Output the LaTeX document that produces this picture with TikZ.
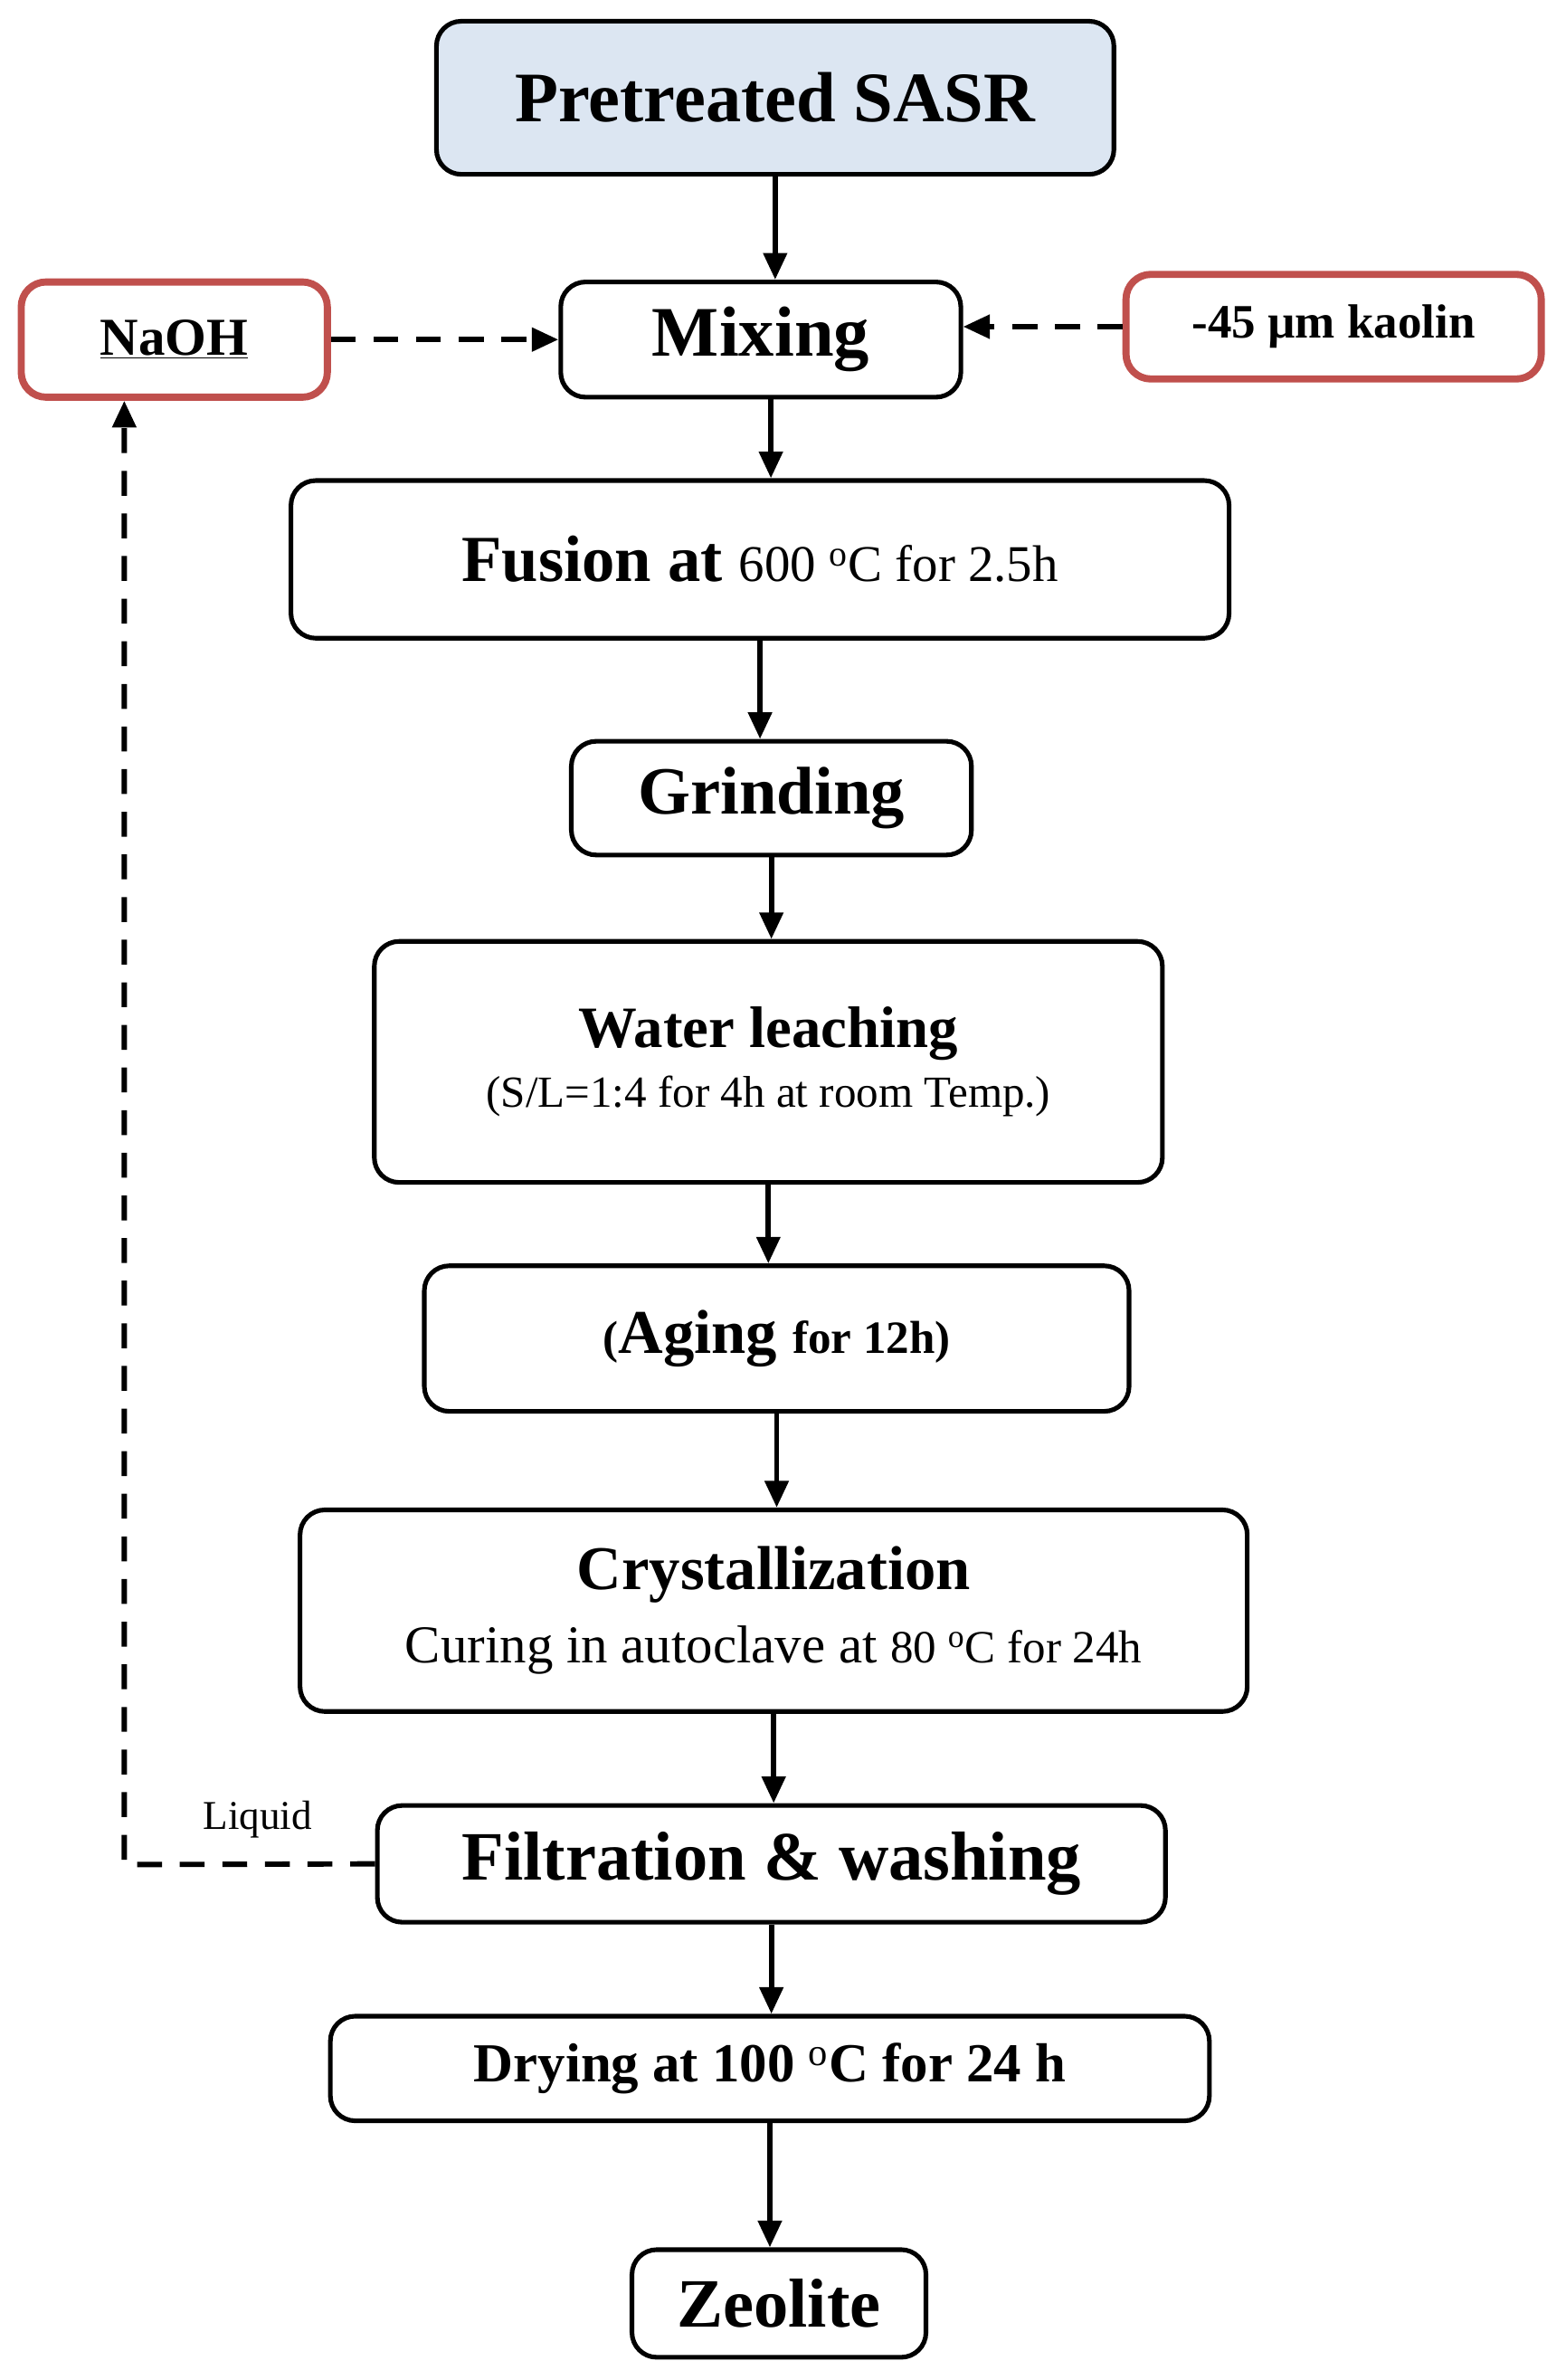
\documentclass[tikz,border=0pt]{standalone}
\usepackage{fontspec}
\setmainfont{Liberation Serif}
\usetikzlibrary{arrows.meta}
\definecolor{redb}{RGB}{192,80,77}
\definecolor{blue1}{RGB}{220,230,242}
\tikzset{
 box/.style={draw=black,line width=2.6pt,rounded corners=14pt,align=center,inner sep=0pt},
 rbox/.style={draw=redb,line width=4pt,rounded corners=14pt,align=center,inner sep=0pt},
 arr/.style={line width=3pt,-{Triangle[length=15pt,width=13pt]}},
 darr/.style={line width=3pt,dash pattern=on 14pt off 10pt,-{Triangle[length=15pt,width=13pt]}}
}
\begin{document}
\begin{tikzpicture}[x=0.03cm,y=-0.03cm]
\useasboundingbox (0,0) rectangle (1033,1570);
\node[box,fill=blue1,minimum width=13.41cm,minimum height=3.03cm] (pre) at (511.5,64.5) {\fontsize{40}{44}\selectfont\bfseries Pretreated SASR};
\node[box,minimum width=7.92cm,minimum height=2.28cm] (mix) at (502,224) {\fontsize{40}{44}\selectfont\bfseries Mixing};
\node[rbox,minimum width=6.06cm,minimum height=2.28cm] (naoh) at (115,224) {\fontsize{30}{34}\selectfont\bfseries\underline{NaOH}};
\node[rbox,minimum width=8.22cm,minimum height=2.07cm] (kao) at (880,215.5) {\fontsize{27}{30}\selectfont\bfseries -45 µm kaolin};
\node[box,minimum width=18.57cm,minimum height=3.12cm] (fus) at (501.5,369) {\fontsize{37}{40}\selectfont\bfseries Fusion at \mdseries\fontsize{29}{32}\selectfont 600 $^{\mathrm{o}}$C for 2.5h};
\node[box,minimum width=7.92cm,minimum height=2.25cm] (gri) at (509,526.5) {\fontsize{38}{42}\selectfont\bfseries Grinding};
\node[box,minimum width=15.6cm,minimum height=4.77cm] (wat) at (507,700.5) {\bfseries\fontsize{33}{36}\selectfont Water leaching\\[8pt]\fontsize{25}{28}\selectfont (S/L=1:4 for 4h at room Temp.)};
\node[box,minimum width=13.95cm,minimum height=2.88cm] (age) at (512.5,883) {\bfseries\fontsize{26}{30}\selectfont (\fontsize{35}{38}\selectfont Aging \fontsize{26}{30}\selectfont for 12h)};
\node[box,minimum width=18.75cm,minimum height=3.99cm] (cry) at (510.5,1062.5) {\fontsize{35}{38}\selectfont\bfseries Crystallization\\[12pt]\mdseries\fontsize{30}{34}\selectfont Curing in autoclave at {\fontsize{26}{30}\selectfont 80 $^{\mathrm{o}}$C for 24h}};
\node[box,minimum width=15.6cm,minimum height=2.31cm] (fil) at (509,1229.5) {\fontsize{39}{42}\selectfont\bfseries Filtration \& washing};
\node[box,minimum width=17.4cm,minimum height=2.07cm] (dry) at (508,1364.5) {\fontsize{31}{34}\selectfont\bfseries Drying at 100 $^{\mathrm{o}}$C for 24 h};
\node[box,minimum width=5.82cm,minimum height=2.13cm] (zeo) at (514,1519.5) {\fontsize{39}{42}\selectfont\bfseries Zeolite};
\node (liq) at (170,1200) {\fontsize{23}{26}\selectfont Liquid};
\draw[arr] (pre.south) -- (pre.south |- mix.north);
\draw[arr] ([xshift=0.2cm]mix.south) -- ([xshift=0.2cm]mix.south |- fus.north);
\draw[arr] (fus.south) -- (fus.south |- gri.north);
\draw[arr] (gri.south) -- (gri.south |- wat.north);
\draw[arr] (wat.south) -- (wat.south |- age.north);
\draw[arr] (age.south) -- (age.south |- cry.north);
\draw[arr] (cry.south) -- (cry.south |- fil.north);
\draw[arr] (fil.south) -- (fil.south |- dry.north);
\draw[arr] (dry.south) -- (dry.south |- zeo.north);
\draw[darr] (naoh.east) -- (mix.west);
\draw[darr] (kao.west) -- (kao.west -| mix.east);
\coordinate (c1) at (82,1230);
\draw[darr] (fil.west) -- (c1) -- (82,1230 |- naoh.south);
\end{tikzpicture}
\end{document}
